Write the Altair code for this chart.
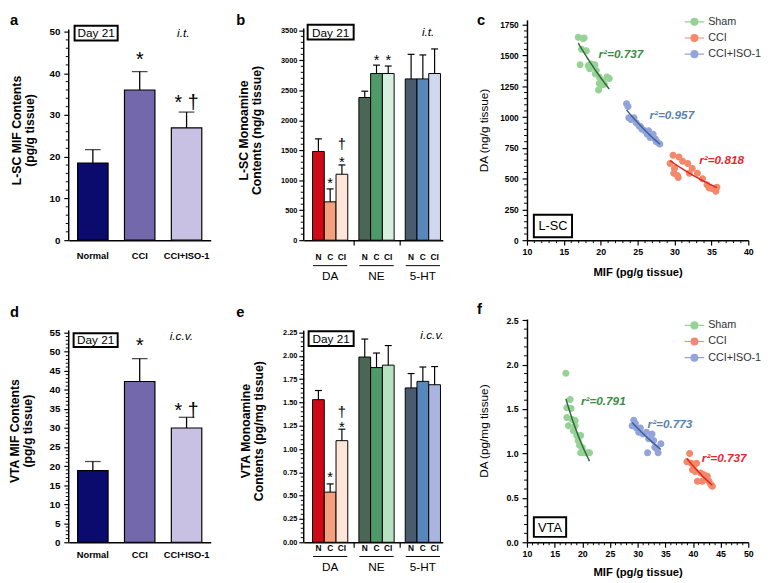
import altair as alt
import pandas as pd

FONT = "Liberation Sans"

# ---------------- data ----------------
mif_groups = ["Normal", "CCI", "CCI+ISO-1"]
mif_colors = ["#0b0b6e", "#7268ab", "#c9c1e3"]

lsc_mif_mean = [18.5, 36.0, 26.9]
lsc_mif_top = [21.7, 40.4, 30.7]
lsc_mif_sig = ["", "*", "* †"]
lsc_mif_sig_y = [0, 43.1, 32.8]

vta_mif_mean = [18.8, 42.2, 30.0]
vta_mif_top = [21.2, 48.2, 32.8]
vta_mif_sig = ["", "*", "* †"]
vta_mif_sig_y = [0, 51.6, 34.4]

mono_groups = ["DA", "NE", "5-HT"]
mono_subs = ["N", "C", "CI"]

lsc_mono_mean = [1480, 640, 1100, 2380, 2780, 2780, 2690, 2690, 2780]
lsc_mono_top = [1690, 855, 1255, 2485, 2920, 2905, 3100, 3090, 3190]
lsc_mono_colors = ["#cf0a17", "#f3a07f", "#fde6d9", "#4c6656", "#4f9a69",
                   "#d7efdf", "#4a5a6f", "#5887bb", "#d0d8ee"]
lsc_sig_bar = [1, 2, 2, 4, 5]
lsc_sig_text = ["*", "*", "†", "*", "*"]
lsc_sig_y = [959, 1307, 1600, 3005, 3005]

vta_mono_mean = [1.53, 0.538, 1.09, 1.987, 1.874, 1.90, 1.656, 1.726, 1.69]
vta_mono_top = [1.628, 0.626, 1.213, 2.18, 2.03, 2.11, 1.81, 1.88, 1.885]
vta_mono_colors = ["#cf0a17", "#f3a07f", "#fde6d9", "#4c6656", "#4f9a69",
                   "#b8e1c4", "#4a5a6f", "#5887bb", "#a9b5de"]
vta_sig_bar = [1, 2, 2]
vta_sig_text = ["*", "*", "†"]
vta_sig_y = [0.694, 1.236, 1.40]

sc_groups = ["Sham", "CCI", "CCI+ISO-1"]
sc_point_colors = ["#96d296", "#f3896b", "#92a4d9"]
sc_line_colors = ["#2f6b3a", "#e3241e", "#3e5f99"]
sc_text_colors = ["#3b8c46", "#e8262c", "#5b82ae"]

# L-SC scatter (MIF pg/g vs DA ng/g)
lsc_sham_x = [16.95, 17.6, 17.4, 18.05, 17.2, 18.3, 18.7, 19.2, 18.5, 19.25,
              19.8, 20.3, 20.85, 21.15, 20.5, 19.8, 19.7, 19.4, 20.1, 17.75]
lsc_sham_y = [1649, 1639, 1551, 1538, 1426, 1418, 1432, 1426, 1392, 1352,
              1326, 1294, 1326, 1313, 1267, 1273, 1220, 1379, 1260, 1643]
lsc_cci_x = [29.8, 30.6, 29.4, 30.0, 30.4, 31.1, 31.8, 32.4, 33.1, 33.8,
             34.4, 35.1, 35.6, 35.75, 32.0, 29.9, 30.5, 34.7]
lsc_cci_y = [690, 676, 623, 583, 525, 642, 623, 583, 543, 499,
             451, 419, 398, 430, 543, 543, 509, 424]
lsc_iso_x = [23.5, 23.7, 23.8, 24.1, 24.5, 24.8, 25.2, 25.6, 26.0, 26.3,
             26.7, 27.1, 27.4, 27.7, 28.0, 27.5, 26.5, 25.4]
lsc_iso_y = [1108, 1087, 994, 980, 994, 954, 928, 901, 888, 861,
             835, 861, 822, 795, 782, 801, 888, 922]
lsc_r2 = ["r²=0.737", "r²=0.818", "r²=0.957"]
lsc_r2_x = [19.7, 33.35, 26.6]
lsc_r2_y = [1510, 650, 1020]

# VTA scatter (MIF pg/g vs DA pg/mg)
vta_sham_x = [17.03, 17.8, 17.2, 17.97, 17.2, 18.1, 17.5, 18.7, 18.4, 19.0,
              19.7, 19.25, 19.5, 19.98, 19.7, 20.3, 20.9, 21.3, 18.7]
vta_sham_y = [1.904, 1.607, 1.515, 1.507, 1.404, 1.386, 1.313, 1.313, 1.257, 1.202,
              1.202, 1.147, 1.092, 1.066, 1.007, 1.007, 1.007, 1.007, 1.37]
vta_cci_x = [39.4, 38.9, 39.7, 40.2, 40.65, 40.4, 41.4, 42.0, 42.6, 40.8,
             41.7, 42.9, 43.2, 43.5, 42.3, 39.9]
vta_cci_y = [1.0, 0.908, 0.89, 0.871, 0.89, 0.798, 0.779, 0.761, 0.743, 0.687,
             0.687, 0.687, 0.651, 0.632, 0.706, 0.816]
vta_iso_x = [29.3, 29.6, 29.0, 29.8, 30.5, 31.0, 30.2, 31.6, 32.6, 32.0,
             32.9, 31.8, 33.4, 33.7, 34.2, 33.1]
vta_iso_y = [1.375, 1.338, 1.313, 1.287, 1.287, 1.22, 1.239, 1.239, 1.22, 1.165,
             1.147, 1.007, 1.055, 1.007, 1.11, 1.07]
vta_r2 = ["r²=0.791", "r²=0.737", "r²=0.773"]
vta_r2_x = [19.75, 41.6, 31.8]
vta_r2_y = [1.588, 0.952, 1.33]


# ---------------- helpers ----------------
def one(text):
    return pd.DataFrame({"t": [text]})


def txt(text, x, y, size, weight="normal", style="normal", align="left",
        baseline="alphabetic", color="black"):
    return alt.Chart(one(text)).mark_text(
        font=FONT, fontSize=size, fontWeight=weight, fontStyle=style,
        align=align, baseline=baseline, color=color
    ).encode(x=alt.value(x), y=alt.value(y), text="t:N")


def box(label, x0, x1, y0, y1, size=12):
    r = alt.Chart(one(label)).mark_rect(fill="white", stroke="black", strokeWidth=2).encode(
        x=alt.value(x0), x2=alt.value(x1), y=alt.value(y0), y2=alt.value(y1))
    t = txt(label, (x0 + x1) / 2, (y0 + y1) / 2 + 0.5, size, align="center", baseline="middle")
    return [r, t]


def minor_vals(lo, hi, step, major):
    out = []
    n = int(round((hi - lo) / step))
    for i in range(n + 1):
        v = round(lo + i * step, 6)
        if all(abs(v - m) > 1e-9 for m in major):
            out.append(v)
    return out


def major_vals(lo, hi, step):
    n = int(round((hi - lo) / step))
    return [round(lo + i * step, 6) for i in range(n + 1)]


def y_axis(values, title, fmt, label_size=9, title_size=12.5, title_weight="bold",
           pad=8, label_pad=2, domain=False):
    return alt.Axis(values=values, title=title, format=fmt, labelFont=FONT,
                    labelFontSize=label_size, labelFontWeight="bold", labelColor="black",
                    titleFont=FONT, titleFontSize=title_size, titleFontWeight=title_weight,
                    titleColor="black", titlePadding=pad, titleLineHeight=13.5,
                    domain=domain, domainColor="black", domainWidth=1.5,
                    tickColor="black", tickWidth=1.2, tickSize=5, grid=False,
                    labelPadding=label_pad, labelOverlap=False, labelFlush=False)


def Y(field, scale, axis):
    return alt.Y(field, scale=scale, axis=axis)


def minor_y(vals, scale, axis, length=3):
    return alt.Chart(pd.DataFrame({"v": vals})).mark_rule(color="black", strokeWidth=1).encode(
        y=Y("v:Q", scale, axis), x=alt.value(-length), x2=alt.value(0))


def minor_x(vals, scale, axis, h, length=3):
    return alt.Chart(pd.DataFrame({"v": vals})).mark_rule(color="black", strokeWidth=1).encode(
        x=alt.X("v:Q", scale=scale, axis=axis), y=alt.value(h), y2=alt.value(h + length))


def y_domain(top, scale, axis):
    return alt.Chart(pd.DataFrame({"lo": [0], "hi": [top]})).mark_rule(
        color="black", strokeWidth=1.5).encode(
        x=alt.value(0), y=Y("lo:Q", scale, axis), y2="hi:Q")


# ---------------- panel a / d ----------------
def mif_panel(letter, means, tops, sig, sig_y, ydom, ymax, ystep, mstep, axis_top, h, title,
              route, letter_xy, box_xy, route_xy, xlab_pad, title_pad):
    w = 154          # cell width; the bars and x axis use the first 145 px
    df = pd.DataFrame({"group": mif_groups, "mean": means, "top": tops,
                       "sig": sig, "sig_y": sig_y})
    xs = alt.Scale(domain=mif_groups, range=[0, 145], paddingInner=0.35, paddingOuter=0.19)
    ys = alt.Scale(domain=[0, ydom], nice=False)
    majors = major_vals(0, ymax, ystep)
    xax = alt.Axis(title=None, labelAngle=0, labelFont=FONT, labelFontSize=9.5,
                   labelFontWeight="bold", labelColor="black", ticks=False,
                   domainColor="black", domainWidth=1.5, labelPadding=xlab_pad)
    yax = y_axis(majors, title, "d", label_size=10, pad=title_pad, label_pad=4)
    xenc = alt.X("group:N", sort=mif_groups, scale=xs, axis=xax)
    bars = alt.Chart(df).mark_bar(stroke="black", strokeWidth=1.2).encode(
        x=xenc, y=Y("mean:Q", ys, yax),
        color=alt.Color("group:N", scale=alt.Scale(domain=mif_groups, range=mif_colors), legend=None))
    whisk = alt.Chart(df).mark_rule(color="black", strokeWidth=1.3).encode(
        x=xenc, y=Y("mean:Q", ys, yax), y2="top:Q")
    caps = alt.Chart(df).mark_tick(color="black", orient="horizontal", size=16, thickness=1.3).encode(
        x=xenc, y=Y("top:Q", ys, yax))
    stars = alt.Chart(df[df.sig != ""]).mark_text(
        font=FONT, fontSize=20, align="center", baseline="middle", color="black").encode(
        x=xenc, y=Y("sig_y:Q", ys, yax), text="sig:N")
    minor = minor_y(minor_vals(0, ymax, mstep, majors), ys, yax)
    layers = [bars, whisk, caps, stars, minor, y_domain(axis_top, ys, yax)]
    layers += box("Day 21", *box_xy)
    layers.append(txt(route, route_xy[0], route_xy[1], 12, style="italic", align="center", baseline="middle"))
    layers.append(txt(letter, letter_xy[0], letter_xy[1], 15, weight="bold"))
    return alt.layer(*layers).properties(width=w, height=h)


# ---------------- panel b / e ----------------
def mono_panel(letter, means, tops, colors, sig_bar, sig_text, sig_y, ydom, ymax, ystep, mstep,
               axis_top, h, fmt, title, route, letter_xy, box_xy, route_xy, lab_dy, title_pad):
    w = 142
    bw = 0.2535
    rows = []
    for gi, g in enumerate(mono_groups):
        for si, s in enumerate(mono_subs):
            k = gi * 3 + si
            x0 = gi + 0.19 + si * bw
            rows.append(dict(key=f"{g}-{s}", group=g, sub=s, x0=x0, x1=x0 + bw,
                             xc=x0 + bw / 2, c0=x0 + bw / 2 - 0.075, c1=x0 + bw / 2 + 0.075,
                             mean=means[k], top=tops[k]))
    df = pd.DataFrame(rows)
    keys = list(df.key)
    xs = alt.Scale(domain=[0, 3], nice=False, zero=False)
    ys = alt.Scale(domain=[0, ydom], nice=False)
    majors = major_vals(0, ymax, ystep)
    xax = alt.Axis(values=[1.07, 2.08], labels=False, title=None, tickSize=5, tickColor="black",
                   tickWidth=1.2, domainColor="black", domainWidth=1.5, grid=False)
    yax = y_axis(majors, title, fmt, label_size=7.5, pad=title_pad, label_pad=2)

    def X(f):
        return alt.X(f, scale=xs, axis=xax)

    bars = alt.Chart(df).mark_bar(stroke="black", strokeWidth=1).encode(
        x=X("x0:Q"), x2="x1:Q", y=Y("mean:Q", ys, yax), y2=alt.datum(0),
        color=alt.Color("key:N", scale=alt.Scale(domain=keys, range=colors), legend=None))
    whisk = alt.Chart(df).mark_rule(color="black", strokeWidth=1.2).encode(
        x=X("xc:Q"), y=Y("mean:Q", ys, yax), y2="top:Q")
    caps = alt.Chart(df).mark_rule(color="black", strokeWidth=1.2).encode(
        x=X("c0:Q"), x2="c1:Q", y=Y("top:Q", ys, yax))
    sdf = pd.DataFrame({"xc": [rows[i]["xc"] for i in sig_bar], "t": sig_text, "y": sig_y})
    stars = alt.Chart(sdf).mark_text(font=FONT, fontSize=15, align="center", baseline="middle",
                                     color="black").encode(
        x=X("xc:Q"), y=Y("y:Q", ys, yax), text="t:N")
    sub_lab = alt.Chart(df).mark_text(font=FONT, fontSize=8.5, fontWeight="bold", align="center",
                                      baseline="middle", color="black").encode(
        x=X("xc:Q"), y=alt.value(h + lab_dy[0]), text="sub:N")
    gdf = pd.DataFrame({"group": mono_groups, "g0": [g + 0.2 for g in range(3)],
                        "g1": [g + 0.94 for g in range(3)], "gc": [g + 0.57 for g in range(3)]})
    under = alt.Chart(gdf).mark_rule(color="black", strokeWidth=1).encode(
        x=X("g0:Q"), x2="g1:Q", y=alt.value(h + lab_dy[1]))
    glab = alt.Chart(gdf).mark_text(font=FONT, fontSize=12, align="center", baseline="middle",
                                    color="black").encode(
        x=X("gc:Q"), y=alt.value(h + lab_dy[2]), text="group:N")
    minor = minor_y(minor_vals(0, ymax, mstep, majors), ys, yax)
    layers = [bars, whisk, caps, stars, minor, y_domain(axis_top, ys, yax), sub_lab, under, glab]
    layers += box("Day 21", *box_xy)
    layers.append(txt(route, route_xy[0], route_xy[1], 12, style="italic", align="center", baseline="middle"))
    layers.append(txt(letter, letter_xy[0], letter_xy[1], 15, weight="bold"))
    return alt.layer(*layers).properties(width=w, height=h)


# ---------------- panel c / f ----------------
SYMBOL = "M-2,0H2M0.7,0A0.7,0.7,0,1,1,-0.7,0A0.7,0.7,0,1,1,0.7,0"


def scatter_panel(letter, xs_list, ys_list, r2, r2x, r2y, xdom, ydom, ymax, ystep, ymstep, h,
                  yfmt, ytitle, region, region_box, letter_xy, legend_xy, ylab_size, ytitle_pad,
                  xtitle_pad):
    w = 226
    rows = []
    for g, xl, yl in zip(sc_groups, xs_list, ys_list):
        for a, b in zip(xl, yl):
            rows.append(dict(group=g, x=a, y=b))
    df = pd.DataFrame(rows)
    xs = alt.Scale(domain=xdom, nice=False, zero=False)
    ys = alt.Scale(domain=[0, ydom], nice=False)
    ymaj = major_vals(0, ymax, ystep)
    xmaj = major_vals(xdom[0], xdom[1], 5)
    xax = alt.Axis(values=xmaj, title="MIF (pg/g tissue)", format="d", labelFont=FONT,
                   labelFontSize=9, labelFontWeight="bold", labelColor="black", titleFont=FONT,
                   titleFontSize=11.5, titleFontWeight="bold", titleColor="black",
                   titlePadding=xtitle_pad, domainColor="black", domainWidth=1.5,
                   tickColor="black", tickWidth=1.2, tickSize=5, grid=False, labelPadding=3,
                   labelOverlap=False, labelFlush=False)
    yax = y_axis(ymaj, ytitle, yfmt, label_size=ylab_size, title_size=12, title_weight="normal",
                 pad=ytitle_pad, label_pad=4, domain=True)

    def X(f):
        return alt.X(f, scale=xs, axis=xax)

    leg = alt.Legend(orient="none", legendX=legend_xy[0], legendY=legend_xy[1], title=None,
                     symbolType=SYMBOL, symbolSize=100, symbolStrokeWidth=1.2,
                     labelFont=FONT, labelFontSize=11, labelColor="#333333", labelOffset=8,
                     rowPadding=4.5, padding=0)
    cscale_f = alt.Scale(domain=sc_groups, range=sc_point_colors)
    cscale_s = alt.Scale(domain=sc_groups, range=sc_point_colors)
    pts = alt.Chart(df).mark_point(filled=True, size=36, strokeWidth=1.2, opacity=1).encode(
        x=X("x:Q"), y=Y("y:Q", ys, yax),
        fill=alt.Fill("group:N", scale=cscale_f, legend=leg, sort=sc_groups),
        stroke=alt.Stroke("group:N", scale=cscale_s, legend=leg, sort=sc_groups))
    layers = [pts]
    for g, col in zip(sc_groups, sc_line_colors):
        layers.append(alt.Chart(df).transform_filter(alt.datum.group == g)
                      .transform_regression("x", "y", method="exp")
                      .mark_line(color=col, strokeWidth=1.5)
                      .encode(x=X("x:Q"), y=Y("y:Q", ys, yax)))
    for t, a, b, col in zip(r2, r2x, r2y, sc_text_colors):
        layers.append(alt.Chart(pd.DataFrame({"t": [t], "x": [a], "y": [b]})).mark_text(
            font=FONT, fontSize=12, fontWeight="bold", fontStyle="italic", align="left",
            baseline="middle", color=col).encode(x=X("x:Q"), y=Y("y:Q", ys, yax), text="t:N"))
    layers.append(minor_y(minor_vals(0, ymax, ymstep, ymaj), ys, yax))
    layers.append(minor_x(minor_vals(xdom[0], xdom[1], 1, xmaj), xs, xax, h))
    layers += box(region, *region_box, size=13)
    layers.append(txt(letter, letter_xy[0], letter_xy[1], 15, weight="bold"))
    return alt.layer(*layers).properties(width=w, height=h)


# ---------------- build ----------------
H1 = 225
H2 = 228
pa = mif_panel("a", lsc_mif_mean, lsc_mif_top, lsc_mif_sig, lsc_mif_sig_y, 52.8, 50, 10, 2,
               50.5, H1, ["L-SC MIF Contents", "(pg/g tissue)"], "i.t.", (-60, 5),
               (6, 50, 6, 21), (117, 13), 11, 12.5)
pb = mono_panel("b", lsc_mono_mean, lsc_mono_top, lsc_mono_colors, lsc_sig_bar, lsc_sig_text,
                lsc_sig_y, 3675, 3500, 500, 100, 3530, H1, "d",
                ["L-SC Monoamine", "Contents (ng/g tissue)"], "i.t.", (-69, 5),
                (4, 51, 5, 20), (127, 12), (17, 26, 37), 17)
pc = scatter_panel("c", [lsc_sham_x, lsc_cci_x, lsc_iso_x], [lsc_sham_y, lsc_cci_y, lsc_iso_y],
                   lsc_r2, lsc_r2_x, lsc_r2_y, [10, 40], 1790, 1750, 250, 50, H1, "d",
                   "DA (ng/g tissue)", "L-SC", (7, 46, 199, 222), (-51, 5), (165, -4),
                   8.5, 9, 10)
pd_ = mif_panel("d", vta_mif_mean, vta_mif_top, vta_mif_sig, vta_mif_sig_y, 58.6, 55, 5, 1,
                55.6, H2, ["VTA MIF Contents", "(pg/g tissue)"], "i.c.v.", (-60, -2.5),
                (5, 50, 14.5, 28.5), (115, 17.5), 8, 14.5)
pe = mono_panel("e", vta_mono_mean, vta_mono_top, vta_mono_colors, vta_sig_bar, vta_sig_text,
                vta_sig_y, 2.395, 2.25, 0.25, 0.05, 2.27, H2, ".2f",
                ["VTA Monoamine", "Contents (pg/mg tissue)"], "i.c.v.", (-69, -2.5),
                (5, 51, 12.5, 27.5), (131, 16.5), (6, 14.5, 25.5), 17)
pf = scatter_panel("f", [vta_sham_x, vta_cci_x, vta_iso_x], [vta_sham_y, vta_cci_y, vta_iso_y],
                   vta_r2, vta_r2_x, vta_r2_y, [10, 50], 2.514, 2.5, 0.5, 0.1, H2, ".1f",
                   "DA (pg/mg tissue)", "VTA", (7, 40, 202.5, 222.5), (-51, -5.5), (165, 0.5),
                   9, 16, 8)

# grid of plot areas (flush bounds): columns at x = 67, 305, 531; rows at y = 15, 315.5
chart = (alt.concat(pa, pb, pc, pd_, pe, pf, columns=3, bounds="flush", align="each",
                    spacing={"row": 80.5, "column": 86})
         .resolve_scale(color="independent", fill="independent", stroke="independent",
                        x="independent", y="independent")
         .resolve_legend(fill="independent", stroke="independent", color="independent")
         .properties(padding={"left": 0, "top": -1, "right": 0, "bottom": 0})
         .configure_view(stroke=None))

chart.save("out.html", embed_options={"renderer": "svg", "actions": False})
